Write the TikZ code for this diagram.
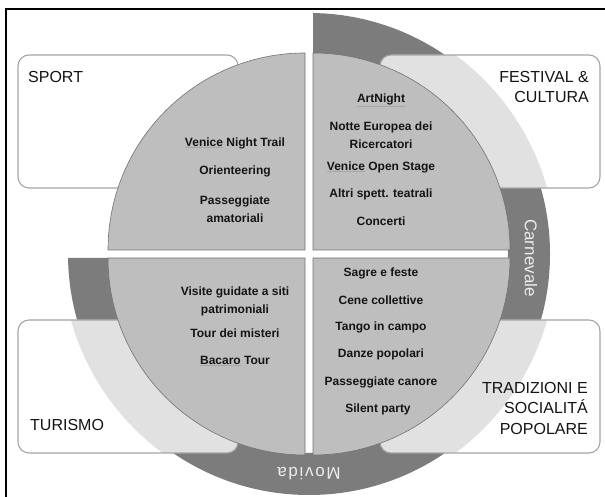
\documentclass[tikz,border=0pt]{standalone}
\usepackage{fontspec}
\setmainfont{Liberation Sans}
\usepackage{xcolor}
\definecolor{anello}{RGB}{124,124,124}
\definecolor{chiaro}{RGB}{225,225,225}
\definecolor{spicchio}{RGB}{190,190,190}
\definecolor{linea}{RGB}{115,115,115}
\definecolor{bordo}{RGB}{165,165,165}
\definecolor{testo}{RGB}{20,20,20}
\definecolor{scrittaring}{RGB}{236,236,236}
\newcommand{\sottol}[1]{{\color{gray!70}\underline{\textcolor{testo}{#1}}}}

\begin{document}
\begin{tikzpicture}[x=1pt,y=1pt,
    caja/.style={draw=bordo,line width=1.1pt,rounded corners=11pt},
    quad/.style={fill=spicchio,draw=linea,line width=0.6pt},
    voce/.style={font=\fontsize{12}{18}\selectfont\bfseries,text=testo,align=center,inner sep=0pt},
    titolo/.style={font=\fontsize{16}{20.5}\selectfont,text=testo,inner sep=0pt},
    scritta/.style={font=\fontsize{17}{17}\selectfont,text=scrittaring,inner sep=0pt}]
        \useasboundingbox (0,0) rectangle (605,497);
        \draw[line width=1.2pt] (6,0) -- (6,488) -- (605,488); % cornice
        % anello scuro
        \begin{scope}
        \clip (313,0) rectangle (605,497) (0,0) rectangle (605,239);
        \fill[anello,even odd rule] (309,243) circle (241) (309,243) circle (199);
        \end{scope}
        % riquadri delle categorie
        \foreach \xa/\ya/\luce in {18/309/0,380/309/1,18/44/1,380/44/1}{
        \fill[white,rounded corners=11pt] (\xa,\ya) rectangle ++(220,133);
        \ifnum\luce=1
        \begin{scope}
        \clip[rounded corners=11pt] (\xa,\ya) rectangle ++(220,133);
        \fill[chiaro] (309,243) circle (247);
        \end{scope}
        \fi
        \draw[caja] (\xa,\ya) rectangle ++(220,133);
        }
        % spicchi
        \foreach \a/\dx/\dy in {0/4/4,90/-4/4,180/-4/-4,270/4/-4}
        \filldraw[quad,shift={(309+\dx,243+\dy)}] (0,0) -- (\a:197) arc[start angle=\a,delta angle=90,radius=197] -- cycle;
        % sport
        \node[voce] (nighttrail) at (235,354) {\sottol{Venice} Night Trail};
        \node[voce] (orienteering) at (235,326) {Orienteering};
        \node[voce] (passeggiate) at (235,288) {Passeggiate\\amatoriali};
        % festival e cultura
        \node[voce] (artnight) at (381,397) {\sottol{ArtNight}};
        \node[voce] (notte) at (381,362) {Notte Europea dei\\Ricercatori};
        \node[voce] (openstage) at (381,330) {\sottol{Venice} Open Stage};
        \node[voce] (teatrali) at (381,303) {Altri spett. teatrali};
        \node[voce] (concerti) at (381,276) {Concerti};
        % turismo
        \node[voce] (visite) at (235,195.5) {Visite guidate a siti\\patrimoniali};
        \node[voce] (misteri) at (235,164) {Tour dei misteri};
        \node[voce] (bacaro) at (235,136) {\sottol{Bacaro} Tour};
        % tradizioni
        \node[voce] (sagre) at (381,224) {Sagre e feste};
        \node[voce] (cene) at (381,197) {Cene collettive};
        \node[voce] (tango) at (381,170) {Tango in campo};
        \node[voce] (danze) at (381,143) {Danze popolari};
        \node[voce] (canore) at (381,115) {Passeggiate canore};
        \node[voce] (silent) at (378,88) {Silent party};
        % titoli
        \node[titolo,anchor=west] (sport) at (28,420) {SPORT};
        \node[titolo,anchor=east,align=right] (festival) at (589,410) {FESTIVAL \&\\CULTURA};
        \node[titolo,anchor=west] (turismo) at (30,72) {TURISMO};
        \node[titolo,anchor=east,align=right] (tradizioni) at (588,89) {TRADIZIONI E\\SOCIALITÁ\\POPOLARE};
        % scritte sull'anello
        \node[scritta,rotate=-90] (carnevale) at (531,239) {Carnevale};
        \node[scritta,rotate=180] (movida) at (309,23) {\addfontfeatures{LetterSpace=10}Movida};
\end{tikzpicture}
\end{document}
